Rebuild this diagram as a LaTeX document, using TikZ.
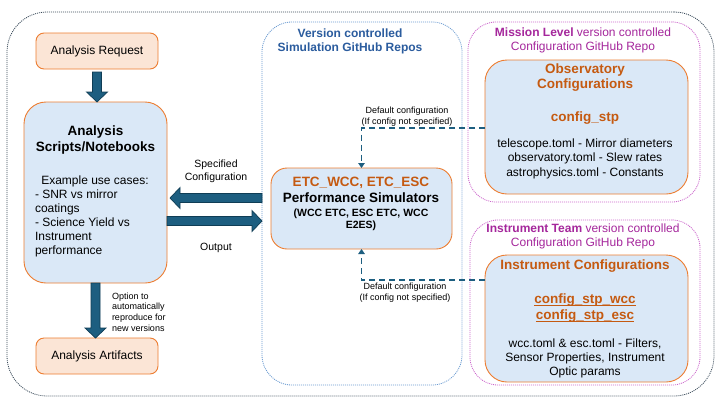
\documentclass[tikz,border=0pt]{standalone}
\usepackage{fontspec}
\setmainfont{Liberation Sans}
\usetikzlibrary{arrows.meta,calc}
\definecolor{borange}{HTML}{ED7D31}
\definecolor{torange}{HTML}{C55A11}
\definecolor{peach}{HTML}{FBE5D6}
\definecolor{lblue}{HTML}{DAE8F7}
\definecolor{tblue}{HTML}{2B5C9E}
\definecolor{tmag}{HTML}{A5279C}
\definecolor{arrfill}{HTML}{1D5E80}
\definecolor{arrline}{HTML}{0F3D55}
\definecolor{simline}{HTML}{6A9BD1}
\definecolor{magline}{HTML}{CC66CC}
\definecolor{outline}{HTML}{3A4A5A}
\newcommand{\fsz}[2]{\fontsize{#1}{#2}\selectfont}
\newcommand{\myul}[1]{\leavevmode\setbox0=\hbox{#1}\rlap{\copy0}\rule[-2.6pt]{\wd0}{1.3pt}}
\newcommand{\vblock}[2]{\path[blockarr] let \p1=(#1), \p2=(#2) in
  (\x1-4.5pt,\y1) -- (\x1+4.5pt,\y1) -- (\x1+4.5pt,\y2+10pt) -- (\x1+10.5pt,\y2+10pt)
  -- (\x1,\y2) -- (\x1-10.5pt,\y2+10pt) -- (\x1-4.5pt,\y2+10pt) -- cycle;}
\newcommand{\hblock}[2]{\path[blockarr] let \p1=(#1), \p2=(#2), \n1={(\x2>\x1)?1:-1} in
  (\x1,\y1-4.5pt) -- (\x1,\y1+4.5pt) -- ({\x2-\n1*10pt},\y1+4.5pt) -- ({\x2-\n1*10pt},\y1+10.5pt)
  -- (\x2,\y1) -- ({\x2-\n1*10pt},\y1-10.5pt) -- ({\x2-\n1*10pt},\y1-4.5pt) -- cycle;}
\begin{document}
\begin{tikzpicture}[x=1pt,y=-1pt,
  every node/.style={inner sep=0pt,outer sep=0pt},
  peachbox/.style={draw=borange,fill=peach,line width=0.9pt,rounded corners=8pt,minimum width=122pt,minimum height=36pt,font=\fsz{12}{14}},
  bluebox/.style={draw=borange,fill=lblue,line width=0.9pt},
  container/.style={line width=0.8pt,dash pattern=on 1pt off 1pt},
  blockarr/.style={fill=arrfill,draw=arrline,line width=0.7pt,line join=miter},
  dasharr/.style={draw=arrfill,line width=1.9pt,dash pattern=on 6pt off 4pt,-{Triangle[width=6.5pt,length=5pt]}},
  body/.style={font=\fsz{12}{14.5},align=center},
  otitle/.style={font=\bfseries\fsz{13.5}{15},text=torange,align=center},
  small/.style={font=\fsz{9}{11},align=center},
  mid/.style={font=\fsz{10.5}{13},align=center}]
\fill[white] (0,0) rectangle (720,405);
\useasboundingbox (0,0) rectangle (720,405);
% containers
\node[container,draw=outline,rounded corners=40pt,minimum width=707pt,minimum height=384pt] (outer) at (360.5,204) {};
\node[container,draw=simline,rounded corners=30pt,minimum width=200pt,minimum height=363pt] (sim) at (362,203.5) {};
\node[container,draw=magline,rounded corners=28pt,minimum width=232pt,minimum height=180pt] (mission) at (584,112) {};
\node[container,draw=magline,rounded corners=28pt,minimum width=230pt,minimum height=165pt] (team) at (585,302.5) {};
% container titles
\node[font=\bfseries\fsz{12}{14},text=tblue,align=center] (simtitle) at (350,41) {Version controlled\\Simulation GitHub Repos};
\node[font=\fsz{12}{14},text=tmag,align=center] (mistitle) at (583,40) {\textbf{Mission Level} version controlled\\Configuration GitHub Repo};
\node[font=\fsz{12}{14},text=tmag,align=center] (teamtitle) at (583,236) {\textbf{Instrument Team} version controlled\\Configuration GitHub Repo};
% left column
\node[peachbox] (req) at (97,51) {Analysis Request};
\node[bluebox,rounded corners=22pt,minimum width=143pt,minimum height=181pt] (scripts) at (95.5,192.5) {};
\node[font=\bfseries\fsz{13.5}{16},align=center] (stitle) at (95.5,140) {Analysis\\Scripts/Notebooks};
\node[font=\fsz{12}{14}] (sex) at (95,181) {Example use cases:};
\node[font=\fsz{12}{14},align=left,anchor=west] (slist) at (35,223) {- SNR vs mirror\\coatings\\- Science Yield vs\\Instrument\\performance};
\node[peachbox] (art) at (97,356) {Analysis Artifacts};
\node[font=\fsz{9}{10.7},align=left,anchor=west] (opt) at (112,312) {Option to\\automatically\\reproduce for\\new versions};
% simulators
\node[bluebox,rounded corners=16pt,minimum width=181pt,minimum height=81pt] (perf) at (361.5,208.5) {};
\node[font=\bfseries\fsz{13.5}{15.5},align=center] (ptitle) at (361,190) {\textcolor{torange}{ETC\_WCC, ETC\_ESC}\\Performance Simulators};
\node[font=\bfseries\fsz{10.5}{12.5},align=center] (psub) at (361,220) {(WCC ETC, ESC ETC, WCC\\E2ES)};
% observatory
\node[bluebox,rounded corners=22pt,minimum width=203pt,minimum height=134pt] (obs) at (586.5,127) {};
\node[otitle] (otitle1) at (585,77.5) {Observatory\\Configurations};
\node[otitle] (ocfg) at (585,118) {config\_stp};
\node[body] (obody) at (585,158.5) {telescope.toml - Mirror diameters\\observatory.toml - Slew rates\\astrophysics.toml - Constants};
% instrument
\node[bluebox,rounded corners=22pt,minimum width=203pt,minimum height=127pt] (inst) at (586.5,318.5) {};
\node[otitle] (ititle) at (585,266) {Instrument Configurations};
\node[font=\bfseries\fsz{13.5}{16},text=torange,align=center] (icfg) at (585,308) {\myul{config\_stp\_wcc}\\\myul{config\_stp\_esc}};
\node[font=\fsz{12}{14},align=center] (ibody) at (585,358) {wcc.toml \& esc.toml - Filters,\\Sensor Properties, Instrument\\Optic params};
% block arrows
\coordinate (reqs) at ([yshift=-3pt]req.south);
\vblock{reqs}{scripts.north}
\vblock{scripts.south}{art.north}
\coordinate (specfrom) at ([yshift=5.5pt]sim.west);
\coordinate (specto) at ([xshift=3pt]scripts.east |- specfrom);
\hblock{specfrom}{specto}
\coordinate (outfrom) at ([yshift=-28.5pt]scripts.east);
\coordinate (outto) at (sim.west |- outfrom);
\hblock{outfrom}{outto}
\node[mid] (speclab) at (216,171.5) {Specified\\Configuration};
\node[mid] (outlab) at (216,248) {Output};
% dashed default-configuration arrows
\draw[dasharr] ([yshift=-1pt]obs.west) -| (perf.north);
\draw[dasharr] ([yshift=38.5pt]inst.west) -| (perf.south);
\node[small] (dl1) at (407,116.5) {Default configuration\\(If config not specified)};
\node[small] (dl2) at (405,292.5) {Default configuration\\(If config not specified)};
\end{tikzpicture}
\end{document}
